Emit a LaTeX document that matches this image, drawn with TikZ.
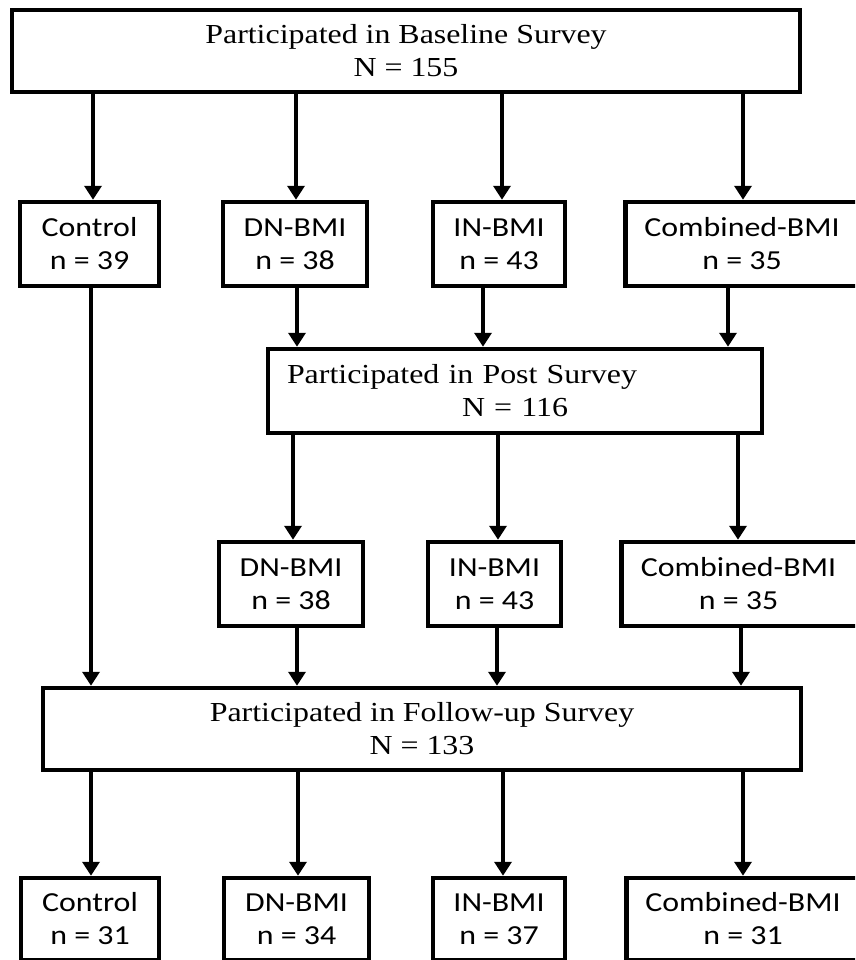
\documentclass[tikz,border=0pt]{standalone}
\usepackage{fontspec}
\setmainfont{Liberation Serif}[FakeStretch=1.16]
\newfontfamily\boxsans{Carlito}[FakeStretch=1.16]
\usetikzlibrary{arrows.meta}
\begin{document}
\begin{tikzpicture}[x=1pt,y=-1pt,
  box/.style={draw=black, line width=4.5pt, inner sep=0pt, align=center, minimum height=84pt},
  serif/.style={font=\fontsize{27.5}{33}\selectfont},
  sans/.style={font=\boxsans\fontsize{27.5}{33}\selectfont},
  arr/.style={line width=4.5pt, -{Triangle[width=17pt,length=14pt]}}
]
\useasboundingbox (0,0) rectangle (855,960);
\clip (0,0) rectangle (855,960);

% Baseline
\node[box, serif, minimum width=788pt, minimum height=82pt] (base) at (406,51)
  {Participated in Baseline Survey\\N = 155};

% Row 2
\node[box, sans, minimum width=139pt] (c1) at (89.5,244) {Control\\n = 39};
\node[box, sans, minimum width=144pt] (d1) at (295,244) {DN-BMI\\n = 38};
\node[box, sans, minimum width=132pt] (i1) at (499,244) {IN-BMI\\n = 43};
\node[box, sans, minimum width=238pt, anchor=west] (m1) at (623,244) {\hspace*{0pt}};
\node[sans, align=center, inner sep=0pt] (m1t) at (742,244) {Combined-BMI\\n = 35};

% Post survey
\node[box, serif, minimum width=494pt, text width=456pt, inner xsep=19pt, align=left] (post) at (515,391)
  {Participated in Post Survey\\\hspace*{175pt}N = 116};

% Row 4
\node[box, sans, minimum width=144pt] (d2) at (291,584) {DN-BMI\\n = 38};
\node[box, sans, minimum width=133pt] (i2) at (494.5,584) {IN-BMI\\n = 43};
\node[box, sans, minimum width=260pt, anchor=west] (m2) at (619,584) {\hspace*{0pt}};
\node[sans, align=center, inner sep=0pt] (m2t) at (738.5,584) {Combined-BMI\\n = 35};

% Follow-up
\node[box, serif, minimum width=758pt, minimum height=82pt] (follow) at (422,729)
  {Participated in Follow-up Survey\\N = 133};

% Row 5
\node[box, sans, minimum width=138pt, minimum height=82pt] (c3) at (90,919) {Control\\n = 31};
\node[box, sans, minimum width=145pt, minimum height=82pt] (d3) at (296.5,919) {DN-BMI\\n = 34};
\node[box, sans, minimum width=132pt, minimum height=82pt] (i3) at (499,919) {IN-BMI\\n = 37};
\node[box, sans, minimum width=260pt, minimum height=82pt, anchor=west] (m3) at (624,919) {\hspace*{0pt}};
\node[sans, align=center, inner sep=0pt] (m3t) at (743,919) {Combined-BMI\\n = 31};

% x positions of connectors
\coordinate (xa1) at (93,0);
\coordinate (xa2) at (296,0);
\coordinate (xa3) at (502,0);
\coordinate (xa4) at (743,0);
\coordinate (xb2) at (297,0);
\coordinate (xb3) at (483,0);
\coordinate (xb4) at (728,0);
\coordinate (xc1) at (91,0);
\coordinate (xd2) at (293,0);
\coordinate (xd3) at (498,0);
\coordinate (xd4) at (738,0);
\coordinate (xe2) at (297,0);
\coordinate (xe3) at (497,0);
\coordinate (xe4) at (741,0);
\coordinate (xf1) at (91,0);
\coordinate (xf2) at (298,0);
\coordinate (xf3) at (503,0);
\coordinate (xf4) at (743,0);

% Baseline -> groups
\draw[arr] (base.south -| xa1) -- (c1.north -| xa1);
\draw[arr] (base.south -| xa2) -- (d1.north -| xa2);
\draw[arr] (base.south -| xa3) -- (i1.north -| xa3);
\draw[arr] (base.south -| xa4) -- (m1.north -| xa4);

% groups -> Post
\draw[arr] (d1.south -| xb2) -- (post.north -| xb2);
\draw[arr] (i1.south -| xb3) -- (post.north -| xb3);
\draw[arr] (m1.south -| xb4) -- (post.north -| xb4);

% Control -> Follow-up
\draw[arr] (c1.south -| xc1) -- (follow.north -| xc1);

% Post -> groups
\draw[arr] (post.south -| xd2) -- (d2.north -| xd2);
\draw[arr] (post.south -| xd3) -- (i2.north -| xd3);
\draw[arr] (post.south -| xd4) -- (m2.north -| xd4);

% groups -> Follow-up
\draw[arr] (d2.south -| xe2) -- (follow.north -| xe2);
\draw[arr] (i2.south -| xe3) -- (follow.north -| xe3);
\draw[arr] (m2.south -| xe4) -- (follow.north -| xe4);

% Follow-up -> groups
\draw[arr] (follow.south -| xf1) -- (c3.north -| xf1);
\draw[arr] (follow.south -| xf2) -- (d3.north -| xf2);
\draw[arr] (follow.south -| xf3) -- (i3.north -| xf3);
\draw[arr] (follow.south -| xf4) -- (m3.north -| xf4);
\end{tikzpicture}
\end{document}
